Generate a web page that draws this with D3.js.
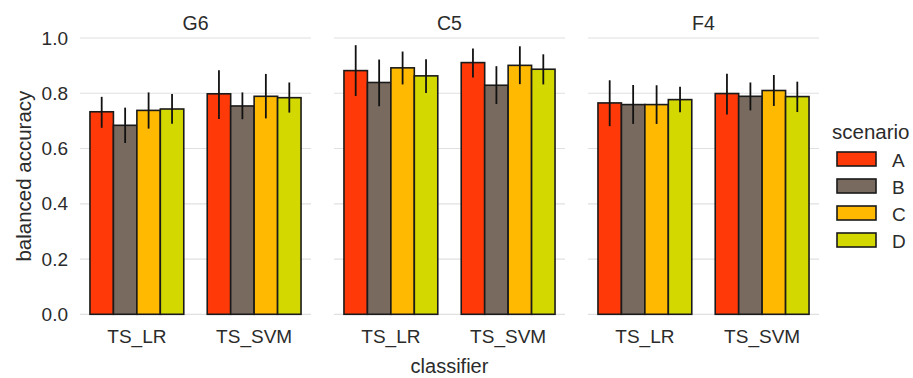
<!DOCTYPE html>
<html>
<head>
<meta charset="utf-8">
<script src="https://cdn.jsdelivr.net/npm/d3@7"></script>
<style>
  body { margin: 0; background: #fff; }
  text { font-family: "Liberation Sans", Arial, sans-serif; fill: #2b2b2b; }
</style>
</head>
<body>
<div id="root"></div>
<script>
const datasets = ["G6", "C5", "F4"];
const classifiers = ["TS_LR", "TS_SVM"];
const scenarios = ["A", "B", "C", "D"];
const colors = ["#ff3a08", "#786a5f", "#ffb900", "#d2d800"];
const yTicks = [0, 0.2, 0.4, 0.6, 0.8, 1.0];

// mean accuracy per dataset -> classifier -> scenario (A..D)
const means = {
	G6: { TS_LR: [0.733, 0.684, 0.738, 0.743], TS_SVM: [0.798, 0.754, 0.789, 0.784] },
	C5: { TS_LR: [0.882, 0.839, 0.892, 0.863], TS_SVM: [0.911, 0.829, 0.901, 0.887] },
	F4: { TS_LR: [0.765, 0.759, 0.759, 0.777], TS_SVM: [0.799, 0.789, 0.810, 0.788] },
};
// error bar low / high
const lows = {
	G6: { TS_LR: [0.675, 0.620, 0.672, 0.690], TS_SVM: [0.707, 0.706, 0.709, 0.730] },
	C5: { TS_LR: [0.790, 0.753, 0.832, 0.801], TS_SVM: [0.857, 0.761, 0.833, 0.832] },
	F4: { TS_LR: [0.681, 0.689, 0.689, 0.731], TS_SVM: [0.723, 0.738, 0.754, 0.732] },
};
const highs = {
	G6: { TS_LR: [0.787, 0.748, 0.803, 0.797], TS_SVM: [0.883, 0.803, 0.870, 0.839] },
	C5: { TS_LR: [0.974, 0.922, 0.951, 0.923], TS_SVM: [0.962, 0.898, 0.970, 0.941] },
	F4: { TS_LR: [0.847, 0.830, 0.829, 0.824], TS_SVM: [0.871, 0.839, 0.866, 0.842] },
};

const W = 913, H = 378;
const panelLeft = [80, 334, 588], panelW = 231;
const plotTop = 38, plotBottom = 314.3;

const svg = d3.select("#root").append("svg").attr("width", W).attr("height", H);

const y = d3.scaleLinear().domain([0, 1]).range([plotBottom, plotTop]);
const x0 = d3.scaleBand().domain(classifiers).range([0, panelW])
	.paddingInner(0.2).paddingOuter(0.085);
const x1 = d3.scaleBand().domain(scenarios).range([0, x0.bandwidth()]);
const color = d3.scaleOrdinal().domain(scenarios).range(colors);

// y tick labels
svg.append("g")
	.selectAll("text")
	.data(yTicks)
	.join("text")
	.attr("x", 68)
	.attr("y", (d) => y(d))
	.attr("dy", "0.35em")
	.attr("text-anchor", "end")
	.style("font-size", "19px")
	.text((d) => d.toFixed(1));

datasets.forEach((ds, i) => {
	const g = svg.append("g").attr("transform", `translate(${panelLeft[i]},0)`);

	g.append("g")
		.selectAll("line")
		.data(yTicks)
		.join("line")
		.attr("x1", 0)
		.attr("x2", panelW)
		.attr("y1", (d) => y(d))
		.attr("y2", (d) => y(d))
		.attr("stroke", "#e0e0e0")
		.attr("stroke-width", 1.2);

	g.append("text")
		.attr("x", panelW / 2)
		.attr("y", 23)
		.attr("dy", "0.35em")
		.attr("text-anchor", "middle")
		.style("font-size", "19.5px")
		.text(ds);

	classifiers.forEach((cl) => {
		const cg = g.append("g").attr("transform", `translate(${x0(cl)},0)`);
		const rows = scenarios.map((s, k) => ({
			s, m: means[ds][cl][k], lo: lows[ds][cl][k], hi: highs[ds][cl][k],
		}));
		cg.selectAll("rect")
			.data(rows)
			.join("rect")
			.attr("x", (d) => x1(d.s))
			.attr("y", (d) => y(d.m))
			.attr("width", x1.bandwidth())
			.attr("height", (d) => y(0) - y(d.m))
			.attr("fill", (d) => color(d.s))
			.attr("stroke", "#1a1a1a")
			.attr("stroke-width", 1.6);
		cg.selectAll("line.err")
			.data(rows)
			.join("line")
			.attr("class", "err")
			.attr("x1", (d) => x1(d.s) + x1.bandwidth() / 2)
			.attr("x2", (d) => x1(d.s) + x1.bandwidth() / 2)
			.attr("y1", (d) => y(d.lo))
			.attr("y2", (d) => y(d.hi))
			.attr("stroke", "#111")
			.attr("stroke-width", 1.8);
		g.append("text")
			.attr("x", x0(cl) + x0.bandwidth() / 2)
			.attr("y", 336)
			.attr("dy", "0.35em")
			.attr("text-anchor", "middle")
			.style("font-size", "19px")
			.text(cl);
	});
});

// axis titles
svg.append("text")
	.attr("transform", `translate(24,${(plotTop + plotBottom) / 2}) rotate(-90)`)
	.attr("dy", "0.35em")
	.attr("text-anchor", "middle")
	.style("font-size", "20.5px")
	.text("balanced accuracy");

svg.append("text")
	.attr("x", (panelLeft[0] + panelLeft[2] + panelW) / 2)
	.attr("y", 366)
	.attr("dy", "0.35em")
	.attr("text-anchor", "middle")
	.style("font-size", "20px")
	.text("classifier");

// legend
const leg = svg.append("g").attr("transform", "translate(832,0)");
leg.append("text")
	.attr("x", 0)
	.attr("y", 132)
	.attr("dy", "0.35em")
	.style("font-size", "20.5px")
	.text("scenario");
const items = leg.selectAll("g.item")
	.data(scenarios)
	.join("g")
	.attr("class", "item")
	.attr("transform", (d, k) => `translate(0,${152 + k * 27})`);
items.append("rect")
	.attr("x", 5)
	.attr("y", 0)
	.attr("width", 39)
	.attr("height", 14)
	.attr("fill", (d) => color(d))
	.attr("stroke", "#1a1a1a")
	.attr("stroke-width", 1.6);
items.append("text")
	.attr("x", 60)
	.attr("y", 8)
	.attr("dy", "0.35em")
	.style("font-size", "19px")
	.text((d) => d);
</script>
</body>
</html>
